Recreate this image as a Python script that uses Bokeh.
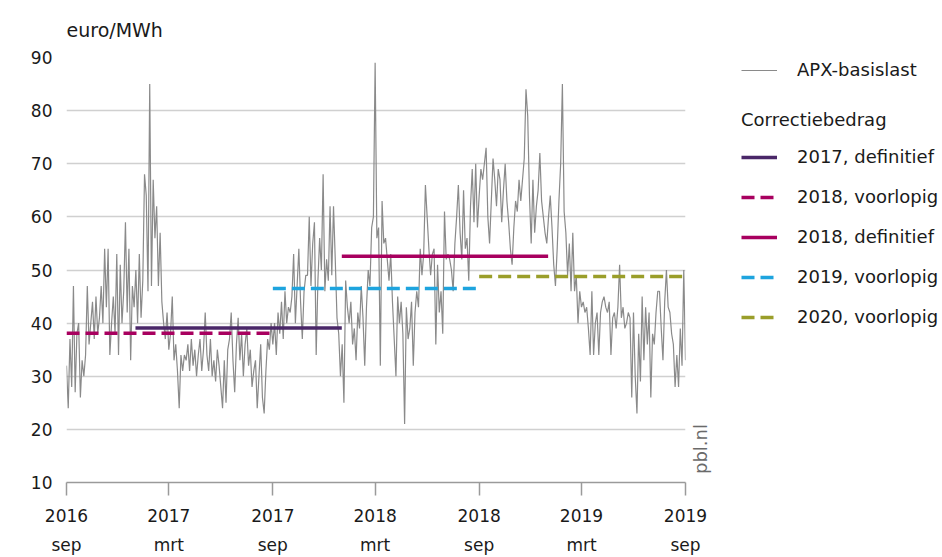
import numpy as np
import pandas as pd
from bokeh.plotting import figure
from bokeh.layouts import row
from bokeh.models import (FixedTicker, DatetimeAxis, LinearAxis, Legend, LegendItem, Range1d)
from bokeh.embed import file_html
from bokeh.resources import INLINE

FONT = "DejaVu Sans"
TEXT = "#1a1a1a"

# ---- data -------------------------------------------------------------
series_start = "2016-09-01"
series_end = "2019-09-01"

# APX baseload price (euro/MWh), ~3 day resolution
apx_2016 = [
    32, 24, 37, 28, 47, 27, 38, 40, 26, 33,   # sep
    30, 34, 47, 36, 40, 44, 37, 45, 38, 41,   # oct
    47, 40, 54, 43, 54, 34, 40, 45, 38, 53,   # nov
    34, 51, 40, 46, 59, 42, 54, 33, 47, 43,   # dec
]
apx_2017 = [
    50, 40, 53, 41, 48, 68, 64, 46, 85, 47,   # jan
    67, 56, 62, 47, 57, 44, 40, 37, 42,       # feb
    35, 38, 45, 33, 36, 31, 24, 34, 31, 34,   # mar
    33, 36, 31, 37, 32, 35, 30, 34, 37, 31,   # apr
    35, 42, 34, 31, 37, 30, 33, 29, 35, 32,   # may
    28, 24, 33, 25, 35, 37, 42, 33, 27, 36,   # jun
    41, 33, 38, 30, 36, 39, 32, 35, 28, 31,   # jul
    33, 24, 30, 36, 26, 23, 31, 37, 35, 40,   # aug
    36, 40, 34, 42, 38, 44, 37, 46, 40, 43,   # sep
    42, 45, 53, 40, 47, 54, 44, 37, 46, 49,   # oct
    49, 60, 47, 55, 59, 34, 48, 56, 50, 68,   # nov
    46, 52, 48, 62, 49, 62, 52, 41, 38, 30,   # dec
]
apx_2018 = [
    36, 25, 48, 43, 40, 44, 36, 39, 33, 42,   # jan
    39, 47, 41, 32, 43, 50, 47, 58, 60,       # feb
    89, 56, 58, 32, 63, 55, 56, 52, 48, 53,   # mar
    44, 37, 30, 45, 40, 44, 38, 21, 43, 37,   # apr
    39, 44, 32, 42, 46, 43, 54, 49, 53, 66,   # may
    60, 54, 49, 53, 54, 36, 51, 42, 46, 38,   # jun
    61, 52, 53, 52, 50, 46, 55, 60, 66, 57,   # jul
    52, 65, 54, 56, 48, 62, 69, 59, 70, 58,   # aug
    64, 69, 67, 70, 73, 60, 55, 63, 71, 67,   # sep
    62, 69, 67, 59, 65, 70, 63, 59, 54, 51,   # oct
    58, 63, 61, 67, 63, 67, 71, 84, 79, 64,   # nov
    55, 67, 57, 62, 65, 72, 63, 60, 57, 55,   # dec
]
apx_2019 = [
    60, 64, 58, 51, 47, 54, 63, 70, 85, 61,   # jan
    57, 49, 55, 46, 57, 46, 49, 40, 46,       # feb
    43, 44, 42, 43, 39, 34, 46, 34, 40, 42,   # mar
    34, 42, 44, 45, 43, 42, 44, 34, 41, 42,   # apr
    39, 43, 51, 41, 43, 39, 40, 42, 41, 26,   # may
    42, 30, 23, 38, 29, 45, 33, 43, 36, 42,   # jun
    26, 38, 36, 42, 46, 46, 39, 33, 44, 50,   # jul
    43, 42, 38, 36, 28, 34, 28, 39, 32, 50,   # aug
    33,                                       # 1 sep
]

corr_labels = ["2017, definitief", "2018, voorlopig", "2018, definitief",
               "2019, voorlopig", "2020, voorlopig"]
corr_start = ["2017-01-01", "2016-09-01", "2018-01-01", "2017-09-01", "2018-09-01"]
corr_end = ["2018-01-01", "2017-09-01", "2019-01-01", "2018-09-01", "2019-09-01"]
corr_value = [39.1, 38.1, 52.6, 46.5, 48.8]

corr_colors = ["#4a2768", "#a8005f", "#a8005f", "#1ea4de", "#9a9e2a"]
corr_dashes = ["solid", "13 6", "solid", "13 6", "13 6"]

tick_dates = ["2016-09-01", "2017-03-01", "2017-09-01", "2018-03-01",
              "2018-09-01", "2019-03-01", "2019-09-01"]
tick_years = ["2016", "2017", "2017", "2018", "2018", "2019", "2019"]
tick_months = ["sep", "mrt", "sep", "mrt", "sep", "mrt", "sep"]
y_ticks = [10, 20, 30, 40, 50, 60, 70, 80, 90]
source_note = "pbl.nl"
source_note_at = 11.6   # lower end of the rotated note, in axis units


def to_ms(d):
    return float(pd.Timestamp(d).value // 10**6)


# ---- main figure ------------------------------------------------------
start_ms, end_ms = to_ms(series_start), to_ms(series_end)
apx_values = apx_2016 + apx_2017 + apx_2018 + apx_2019
apx_x = np.linspace(start_ms, end_ms, len(apx_values))

p = figure(width=724, height=557, x_axis_type="datetime",
           output_backend="svg", toolbar_location=None,
           x_range=Range1d(start_ms, end_ms), y_range=Range1d(10, 90),
           min_border_left=66, min_border_right=38,
           min_border_top=56, min_border_bottom=74)
p.outline_line_color = None
p.xgrid.grid_line_color = None
p.ygrid.ticker = FixedTicker(ticks=y_ticks)
p.ygrid.grid_line_color = "#d0d0d0"
p.ygrid.grid_line_width = 1.5

# y axis
yax = p.yaxis[0]
yax.ticker = FixedTicker(ticks=y_ticks)
yax.axis_line_color = None
yax.major_tick_line_color = None
yax.minor_tick_line_color = None
yax.major_label_text_font = FONT
yax.major_label_text_font_size = "17px"
yax.major_label_text_color = TEXT
yax.major_label_standoff = 8

# x axis (years) + second axis (months)
tick_ms = [to_ms(d) for d in tick_dates]
xax = p.xaxis[0]
xax.ticker = FixedTicker(ticks=tick_ms)
xax.major_label_overrides = {t: s for t, s in zip(tick_ms, tick_years)}
xax.axis_line_color = "#9a9a9a"
xax.axis_line_width = 1.5
xax.major_tick_line_color = "#9a9a9a"
xax.major_tick_line_width = 1.5
xax.major_tick_out = 13
xax.major_tick_in = 0
xax.minor_tick_line_color = None
xax.major_label_text_font = FONT
xax.major_label_text_font_size = "17px"
xax.major_label_text_color = TEXT
xax.major_label_standoff = 13

mon = DatetimeAxis(ticker=FixedTicker(ticks=tick_ms),
                   major_label_overrides={t: s for t, s in zip(tick_ms, tick_months)},
                   axis_line_color=None, major_tick_line_color=None,
                   minor_tick_line_color=None, major_tick_out=0, major_tick_in=0,
                   major_label_text_font=FONT, major_label_text_font_size="17px",
                   major_label_text_color=TEXT, major_label_standoff=10)
p.add_layout(mon, "below")

# vertical source note on the right, as a single rotated tick label
note_ax = LinearAxis(ticker=FixedTicker(ticks=[source_note_at]),
                     major_label_overrides={source_note_at: source_note},
                     major_label_orientation=np.pi / 2,
                     axis_line_color=None, major_tick_line_color=None,
                     minor_tick_line_color=None, major_tick_out=0, major_tick_in=0,
                     major_label_text_font=FONT, major_label_text_font_size="18px",
                     major_label_text_color="#6a6a6a", major_label_standoff=15)
p.add_layout(note_ax, "right")

# unit label
p.title.text = "euro/MWh"
p.title.text_font = FONT
p.title.text_font_size = "19px"
p.title.text_font_style = "normal"
p.title.text_color = TEXT
p.title.align = "left"
p.title.standoff = 33

apx_r = p.line(apx_x, apx_values, line_color="#8a8a8a", line_width=1.2)
for s, e, v, c, d in zip(corr_start, corr_end, corr_value, corr_colors, corr_dashes):
    p.line([to_ms(s), to_ms(e)], [v, v], line_color=c, line_width=3.5, line_dash=d)

# ---- legend panel -----------------------------------------------------
lf = figure(width=218, height=557, output_backend="svg", toolbar_location=None,
            x_range=Range1d(0, 1), y_range=Range1d(0, 1),
            x_axis_location=None, y_axis_location=None, min_border=0)
lf.outline_line_color = None
lf.grid.grid_line_color = None

# legend glyphs use the same series (outside this panel's view)
l_apx = lf.line(apx_x, apx_values, line_color="#8a8a8a", line_width=1.2)
l_corr = []
for lab, s, e, v, c, d in zip(corr_labels, corr_start, corr_end, corr_value,
                              corr_colors, corr_dashes):
    r = lf.line([to_ms(s), to_ms(e)], [v, v], line_color=c, line_width=3.5, line_dash=d)
    l_corr.append(LegendItem(label=lab, renderers=[r]))

common = dict(glyph_width=36, glyph_height=20, label_standoff=20,
              label_height=20, padding=0, margin=0, border_line_color=None,
              background_fill_alpha=0, label_text_font=FONT,
              label_text_font_size="18px", label_text_color=TEXT,
              inactive_fill_alpha=0)

leg1 = Legend(items=[LegendItem(label="APX-basislast", renderers=[l_apx])],
              location=(17, 402), **common)
leg2 = Legend(items=l_corr, title="Correctiebedrag", title_text_font=FONT,
              title_text_font_size="18px", title_text_font_style="normal",
              title_text_color=TEXT, title_standoff=16, spacing=19,
              location=(17, 155), **common)
lf.add_layout(leg1)
lf.add_layout(leg2)

layout = row(p, lf)
open("out.html", "w").write(file_html(layout, INLINE))
